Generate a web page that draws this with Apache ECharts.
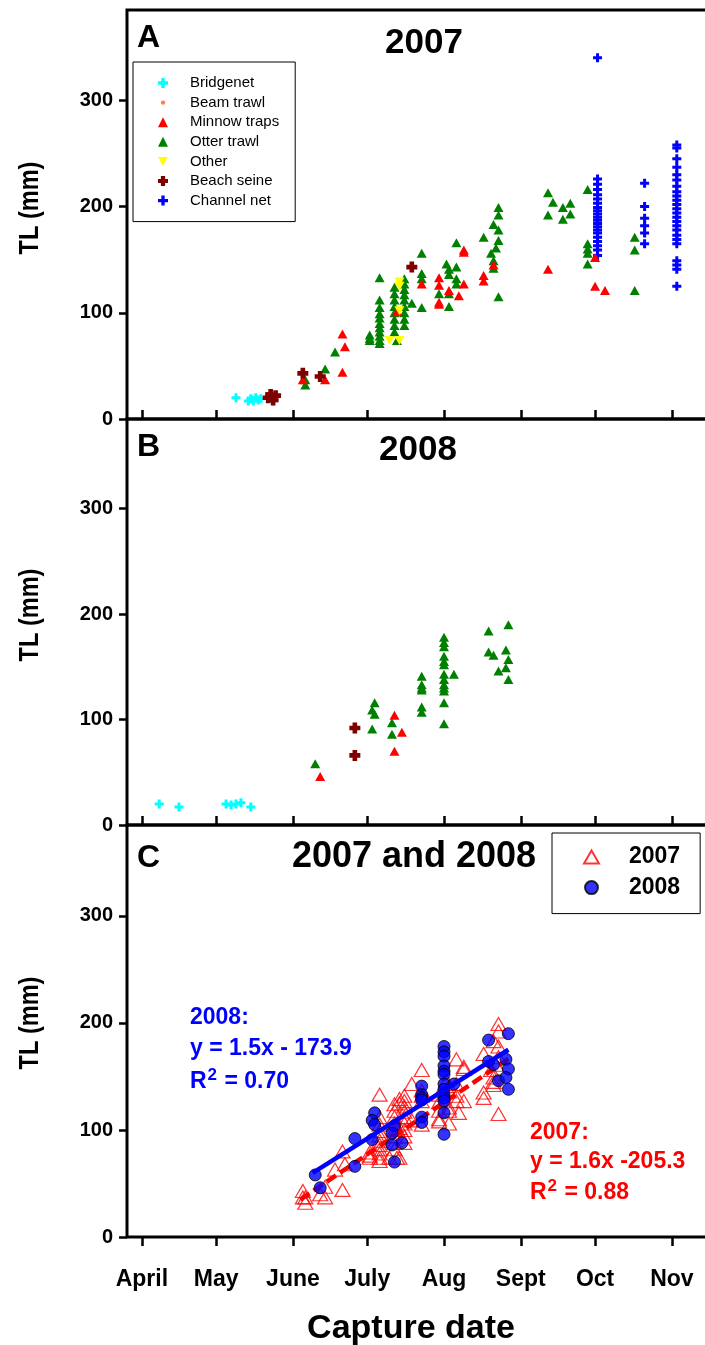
<!DOCTYPE html>
<html><head><meta charset="utf-8">
<script src="https://cdn.jsdelivr.net/npm/echarts@6/dist/echarts.min.js"></script>
<style>html,body{margin:0;padding:0;overflow:hidden;background:#fff}#c{width:715px;height:1345px}</style>
</head><body><div id="c"></div><script>
// x values are day of year
const monthTicks = [91, 121, 152, 182, 213, 244, 274, 305];
const monthLabels = ['April', 'May', 'June', 'July', 'Aug', 'Sept', 'Oct', 'Nov'];
const yTicks = [0, 100, 200, 300];

// ---- 2007 (panel A): [day of year, TL mm]
const bridgenet2007 = [[129,20],[134,17],[135,19],[136,17],[137,20],[138,18],[139,19],[144,17]];
const beamTrawl2007 = [];
const minnow2007 = [[156,37],[165,37],[172,44],[173,68],[172,80],[194,101],[204,127],[211,133],[211,126],[211,110],[211,108],[215,121],[219,116],[221,159],[221,157],[221,127],[229,135],[229,130],[233,145],[255,141],[274,152],[274,125],[278,121]];
const otter2007 = [[157,37],[157,32],[165,47],[169,63],[183,79],[183,74],[183,76],
  [187,99],[187,95],[187,90],[187,86],[187,82],[187,78],[187,74],[187,71],[187,112],[187,105],[187,133],
  [193,124],[193,118],[193,112],[193,106],[193,100],[193,94],[193,88],[193,82],[194,74],
  [197,132],[197,127],[197,122],[197,117],[197,112],[197,106],[197,100],[197,94],[197,88],
  [200,109],[204,156],[204,137],[204,132],[204,105],
  [214,146],[215,141],[215,136],[215,118],[215,106],[211,118],[218,143],[218,132],[218,127],[218,166],
  [229,171],[233,183],[235,199],[235,192],[235,178],[235,168],[234,161],[232,156],[233,149],[233,142],[235,115],
  [255,213],[255,192],[257,204],[261,199],[261,188],[264,203],[264,193],
  [271,216],[271,165],[271,160],[271,156],[271,146],[290,171],[290,159],[290,121]];
const other2007 = [[195,129],[195,125],[195,102],[191,74],[195,74]];
const beachSeine2007 = [[142,20],[143,23],[144,18],[145,22],[156,43],[163,40],[200,143]];
const channelNet2007 = [
  [275,340],[275,226],[275,221],[275,216],[275,211],[275,207],[275,203],[275,199],[275,196],[275,193],[275,190],
  [275,187],[275,184],[275,181],[275,178],[275,175],[275,171],[275,167],[275,163],[275,159],[275,154],
  [294,222],[294,200],[294,189],[294,182],[294,175],[294,165],
  [307,258],[307,255],[307,245],[307,237],[307,230],[307,225],[307,219],[307,214],[307,210],[307,206],[307,202],
  [307,198],[307,194],[307,190],[307,186],[307,182],[307,178],[307,173],[307,169],[307,165],[307,149],[307,145],[307,141],[307,125]];

// ---- 2008 (panel B)
const bridgenet2008 = [[98,20],[106,17],[125,20],[127,19],[129,20],[131,21],[135,17]];
const minnow2008 = [[163,46],[193,104],[196,88],[193,70]];
const beachSeine2008 = [[177,92],[177,66]];
const otter2008 = [[161,58],[185,116],[184,109],[185,105],[184,91],[192,97],[192,86],
  [204,141],[204,133],[204,130],[204,128],[204,112],[204,107],
  [213,178],[213,173],[213,169],[213,160],[213,155],[213,152],[213,143],[213,138],[213,133],[213,130],[213,127],[213,116],[213,96],[217,143],
  [231,184],[231,164],[233,161],[235,146],[239,190],[238,166],[239,157],[238,149],[239,138]];

// ---- regression lines (panel C), endpoints
const fit2007 = [[155,35],[240,168]];
const fit2008 = [[160,60],[239,175]];

// panel C point sets built from the panel arrays (June-August captures)
const c2007 = [].concat(minnow2007, otter2007, other2007, beachSeine2007).filter(p => p[0] >= 150 && p[0] <= 243);
const c2008 = [].concat(minnow2008, otter2008, beachSeine2008).filter(p => p[0] >= 150);

const FONT = 'Liberation Sans, Arial, sans-serif';
const PLUS = 'path://M3,0H6V3H9V6H6V9H3V6H0V3H3Z';
const PLUS_FAT = 'path://M2.6,0H6.4V2.6H9V6.4H6.4V9H2.6V6.4H0V2.6H2.6Z';
const SMALL_DOT = 'path://M0,0M10,10M7.2,5A2.2,2.2,0,1,1,2.8,5A2.2,2.2,0,1,1,7.2,5Z';

const chart = echarts.init(document.getElementById('c'), null, {renderer: 'canvas'});

const grids = [
  {left: 127, top: 10, width: 582, height: 409},
  {left: 127, top: 419, width: 582, height: 406},
  {left: 127, top: 825, width: 582, height: 412}
].map(g => Object.assign(g, {show: true, borderColor: '#000', borderWidth: 3, backgroundColor: 'transparent'}));

const xAxes = [0, 1, 2].map(i => ({
  type: 'value', gridIndex: i, min: 85, max: 320,
  axisLine: {show: false},
  splitLine: {show: false},
  axisTick: {show: true, customValues: monthTicks, inside: i < 2, length: 9, lineStyle: {color: '#000', width: 2.5}},
  axisLabel: {show: i === 2, customValues: monthTicks, margin: 31,
    formatter: v => monthLabels[monthTicks.indexOf(v)] || '',
    fontFamily: FONT, fontWeight: 'bold', fontSize: 23, color: '#000'}
}));
const yAxes = [0, 1, 2].map(i => ({
  type: 'value', gridIndex: i, min: 0, max: 385,
  axisLine: {show: false},
  splitLine: {show: false},
  axisTick: {show: true, customValues: yTicks, inside: false, length: 8, lineStyle: {color: '#000', width: 2.5}},
  axisLabel: {customValues: yTicks, margin: 14, fontFamily: FONT, fontWeight: 'bold', fontSize: 20, color: '#000'}
}));

function sc(name, data, gi, symbol, size, color, z) {
  return {type: 'scatter', name, data, xAxisIndex: gi, yAxisIndex: gi, symbol, symbolSize: size,
    itemStyle: {color, opacity: 1}, z: z || 2, silent: true, animation: false};
}

const series = [
  // panel A
  sc('Channel net', channelNet2007, 0, PLUS, 9, '#0000ff', 2),
  sc('Bridgenet', bridgenet2007, 0, PLUS, 9, '#00ffff', 3),
  sc('Beam trawl', beamTrawl2007, 0, 'circle', 5, '#ff7f50', 3),
  sc('Otter trawl', otter2007, 0, 'triangle', [10, 9], '#008000', 3),
  sc('Minnow traps', minnow2007, 0, 'triangle', [10, 9], '#ff0000', 4),
  sc('Other', other2007, 0, 'path://M0,0H10L5,9Z', [10, 9], '#ffff00', 5),
  sc('Beach seine', beachSeine2007, 0, PLUS_FAT, 11, '#800000', 6),
  // panel B
  sc('Bridgenet', bridgenet2008, 1, PLUS, 9, '#00ffff', 3),
  sc('Otter trawl', otter2008, 1, 'triangle', [10, 9], '#008000', 3),
  sc('Minnow traps', minnow2008, 1, 'triangle', [10, 9], '#ff0000', 4),
  sc('Beach seine', beachSeine2008, 1, PLUS_FAT, 11, '#800000', 6),
  // panel C
  {type: 'scatter', name: '2007', data: c2007, xAxisIndex: 2, yAxisIndex: 2, symbol: 'triangle', symbolSize: [15, 13],
    itemStyle: {color: 'rgba(255,255,255,0)', borderColor: '#ff0000', borderWidth: 1.2}, z: 2, animation: false},
  {type: 'line', name: 'fit2007', data: fit2007, xAxisIndex: 2, yAxisIndex: 2, symbol: 'none',
    lineStyle: {color: '#ff0000', width: 4.5, type: [11, 5]}, z: 3, animation: false},
  {type: 'scatter', name: '2008', data: c2008, xAxisIndex: 2, yAxisIndex: 2, symbol: 'circle', symbolSize: 12,
    itemStyle: {color: '#0000ff', borderColor: '#000', borderWidth: 1}, z: 4, animation: false},
  {type: 'line', name: 'fit2008', data: fit2008, xAxisIndex: 2, yAxisIndex: 2, symbol: 'none',
    lineStyle: {color: '#0000ff', width: 4.5}, z: 5, animation: false}
];

function txt(text, x, y, size, color, align) {
  return {type: 'text', x, y, silent: true, z: 100,
    style: {text, fontFamily: FONT, fontWeight: 'bold', fontSize: size, fill: color || '#000',
      textAlign: align || 'left', textVerticalAlign: 'middle'}};
}
function rich(base, exp, rest, x, y, color) {
  return {type: 'text', x, y, silent: true, z: 100,
    style: {text: '{a|' + base + '}{s|' + exp + '}{a|' + rest + '}', fontFamily: FONT, fontWeight: 'bold', fill: color,
      textVerticalAlign: 'middle',
      rich: {a: {fontSize: 23, fontFamily: FONT, fontWeight: 'bold', fill: color, verticalAlign: 'bottom', lineHeight: 26},
             s: {fontSize: 17, fontFamily: FONT, fontWeight: 'bold', fill: color, verticalAlign: 'bottom', lineHeight: 26, padding: [0, 1, 9, 1]}}}};
}

const graphic = [
  txt('A', 137, 38, 32), txt('B', 137, 447, 32), txt('C', 137, 858, 32),
  txt('2007', 424, 43, 35, '#000', 'center'),
  txt('2008', 418, 450, 35, '#000', 'center'),
  txt('2007 and 2008', 414, 857, 36, '#000', 'center'),
  // y axis titles
  ...[208, 615, 1023].map(cy => ({type: 'text', x: 30, y: cy, rotation: Math.PI / 2, scaleX: 0.84, silent: true, z: 100,
    style: {text: 'TL (mm)', fontFamily: FONT, fontWeight: 'bold', fontSize: 28, fill: '#000', textAlign: 'center', textVerticalAlign: 'middle'}})),
  txt('Capture date', 411, 1329, 34, '#000', 'center'),
  // regression annotations
  txt('2008:', 190, 1018, 23, '#0000ff'),
  txt('y = 1.5x - 173.9', 190, 1049, 23, '#0000ff'),
  rich('R', '2', ' = 0.70', 190, 1080, '#0000ff'),
  txt('2007:', 530, 1133, 23, '#ff0000'),
  txt('y = 1.6x -205.3', 530, 1162, 23, '#ff0000'),
  rich('R', '2', ' = 0.88', 530, 1191, '#ff0000')
];

chart.setOption({
  animation: false,
  backgroundColor: '#fff',
  grid: grids,
  xAxis: xAxes,
  yAxis: yAxes,
  legend: [
    {data: ['Bridgenet', {name: 'Beam trawl', icon: SMALL_DOT}, 'Minnow traps', 'Otter trawl', 'Other', 'Beach seine', 'Channel net'],
      orient: 'vertical', left: 133, top: 62, padding: [13, 16, 13, 25], itemGap: 3.6, itemWidth: 10, itemHeight: 10,
      selectedMode: false, borderColor: '#000', borderWidth: 1, backgroundColor: '#fff',
      textStyle: {fontFamily: FONT, fontSize: 15, color: '#000', lineHeight: 16, padding: [0, 0, 0, 17]}},
    {data: ['2007', '2008'],
      orient: 'vertical', left: 552, top: 833, padding: [11, 20, 13, 31], itemGap: 4.6, itemWidth: 15, itemHeight: 13,
      selectedMode: false, borderColor: '#000', borderWidth: 1, backgroundColor: '#fff',
      textStyle: {fontFamily: FONT, fontSize: 23, fontWeight: 'bold', color: '#000', lineHeight: 26, padding: [0, 0, 0, 25]}}
  ],
  series,
  graphic
});
</script></body></html>
